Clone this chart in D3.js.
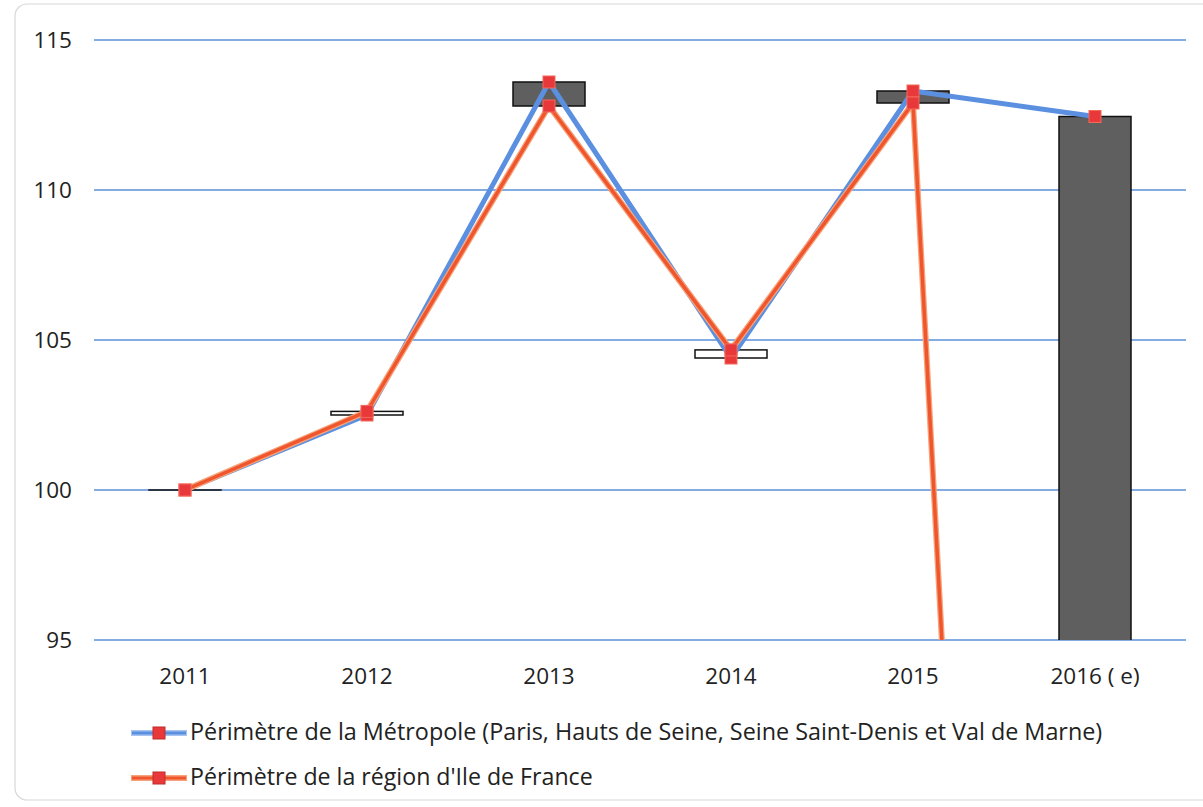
<!DOCTYPE html>
<html><head><meta charset="utf-8">
<script src="https://cdn.jsdelivr.net/npm/d3@7"></script>
<style>body{margin:0;background:#fff}svg{display:block}text{font-family:"Open Sans","Noto Sans",sans-serif;fill:#222}</style>
</head><body><svg id="c" width="1203" height="807"></svg>
<script>
const categories = ["2011","2012","2013","2014","2015","2016 ( e)"];
const metropole = [100, 102.5, 113.6, 104.4, 113.3, 112.45];
const ileDeFrance = [100, 102.62, 112.8, 104.67, 112.9, 0];
const yTicks = [95,100,105,110,115];
const seriesNames = ["Périmètre de la Métropole (Paris, Hauts de Seine, Seine Saint-Denis et Val de Marne)","Périmètre de la région d'Ile de France"];

const svg = d3.select("#c");
const M = {l:94, r:1186, t:40, b:640};
const x = d3.scaleBand().domain(categories).range([M.l, M.r]);
const y = d3.scaleLinear().domain([95,115]).range([M.b, M.t]);
const cx = d => x(d) + x.bandwidth()/2;

// frame
svg.append("rect").attr("x",15).attr("y",4).attr("width",1200).attr("height",796).attr("rx",12)
  .attr("fill","none").attr("stroke","#d8d8d8").attr("stroke-width",1.2);

svg.append("defs").append("clipPath").attr("id","clip").append("rect")
  .attr("x",M.l).attr("y",M.t-20).attr("width",M.r-M.l).attr("height",M.b-M.t+20);

// grid
svg.append("g").selectAll("line").data(yTicks).join("line")
  .attr("x1",M.l).attr("x2",M.r).attr("y1",d=>y(d)).attr("y2",d=>y(d))
  .attr("stroke","#5b8fd9").attr("stroke-width",1.3);

// y labels
svg.append("g").selectAll("text").data(yTicks).join("text")
  .attr("x",72).attr("y",d=>y(d)+8).attr("text-anchor","end").attr("font-size",22.5).text(d=>d);
// x labels
svg.append("g").selectAll("text").data(categories).join("text")
  .attr("x",d=>cx(d)).attr("y",684).attr("text-anchor","middle").attr("font-size",22.5).text(d=>d);

const g = svg.append("g").attr("clip-path","url(#clip)");
const bw = 72;
// up-down bars
categories.forEach((c,i)=>{
  const o = metropole[i], cl = ileDeFrance[i];
  const top = y(Math.max(o,cl)), bot = y(Math.min(o,cl));
  g.append("rect").attr("x",cx(c)-bw/2).attr("y",top).attr("width",bw).attr("height",Math.max(bot-top,0.01))
    .attr("fill", cl>=o ? "#fff" : "#5f5f5f").attr("stroke","#111").attr("stroke-width",1.5);
});

const line = d3.line().x((d,i)=>cx(categories[i])).y(d=>y(d));
g.append("path").datum(metropole).attr("d",line).attr("fill","none").attr("stroke","#5b8fe0").attr("stroke-width",5).attr("stroke-linejoin","round");
g.append("path").datum(ileDeFrance).attr("d",line).attr("fill","none").attr("stroke","#f6a37a").attr("stroke-width",6).attr("stroke-linejoin","round");
g.append("path").datum(ileDeFrance).attr("d",line).attr("fill","none").attr("stroke","#f0562e").attr("stroke-width",3.5).attr("stroke-linejoin","round");

function markers(data){
  g.append("g").selectAll("rect").data(data).join("rect")
    .attr("x",(d,i)=>cx(categories[i])-6).attr("y",d=>y(d)-6).attr("width",12).attr("height",12)
    .attr("fill","#e8383a").attr("stroke","#f26a5a").attr("stroke-width",1);
}
markers(metropole); markers(ileDeFrance);

// legend
const legCols = [["#5b8fe0","#a9c4f0"],["#f0562e","#f6a37a"]];
seriesNames.forEach((n,i)=>{
  const ly = 733 + i*45;
  const lg = svg.append("g");
  lg.append("line").attr("x1",131).attr("x2",187).attr("y1",ly).attr("y2",ly).attr("stroke",legCols[i][1]).attr("stroke-width",6);
  lg.append("line").attr("x1",132).attr("x2",186).attr("y1",ly).attr("y2",ly).attr("stroke",legCols[i][0]).attr("stroke-width",3);
  lg.append("rect").attr("x",153).attr("y",ly-6).attr("width",12).attr("height",12).attr("fill","#e8383a").attr("stroke","#c02a2a");
  const t = lg.append("text").attr("x",190).attr("y",ly+7).attr("font-size",20).text(n);
  if(i===0){const w=t.node().getComputedTextLength(); t.attr("font-size",20*913/w);}
  else {const w=t.node().getComputedTextLength(); t.attr("font-size",20*403/w);}
});
</script></body></html>
